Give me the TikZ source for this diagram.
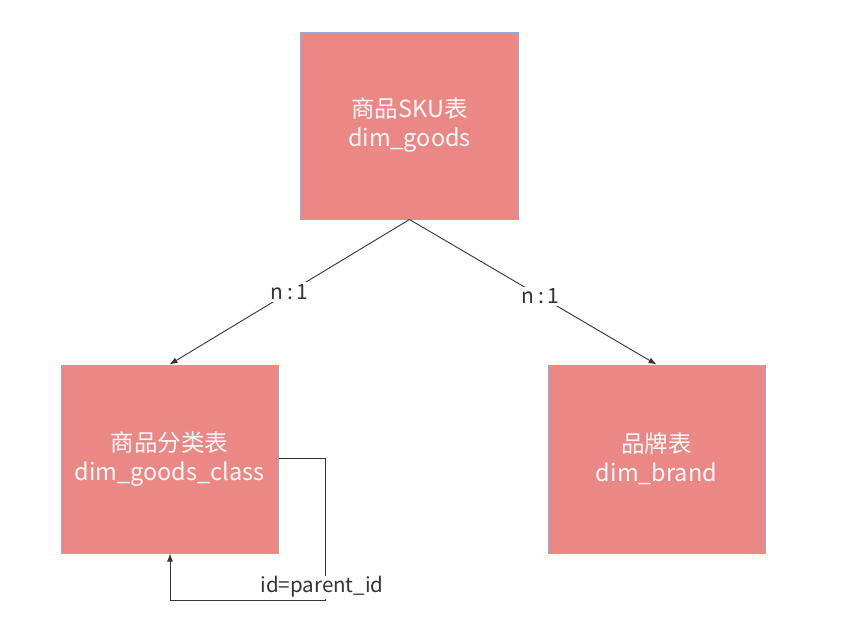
\documentclass[tikz,border=0pt]{standalone}
\usepackage{fontspec}
\setmainfont{Noto Sans CJK SC}
\usetikzlibrary{arrows.meta}
\definecolor{boxfill}{HTML}{EA8886}
\definecolor{boxline}{HTML}{8FAADC}
\definecolor{linecol}{HTML}{333333}
\begin{document}
\begin{tikzpicture}[x=1pt,y=-1pt,
  tablebox/.style={draw=boxline,line width=1pt,fill=boxfill,text=white!90!pink,
    minimum width=#1,align=center,font=\fontsize{23.5}{29}\selectfont,inner sep=0pt},
  rel/.style={draw=linecol,line width=0.9pt,-{Latex[length=8pt,width=6pt]}},
  lbl/.style={fill=white,text=linecol,font=\fontsize{21}{24}\selectfont,inner sep=2pt}]
\useasboundingbox (0,0) rectangle (861,622);
\node[tablebox=218pt,minimum height=187pt] (goods) at (409.5,125.5) {商品SKU表\\dim\_goods};
\node[tablebox=217pt,minimum height=188pt] (class) at (169.5,459) {商品分类表\\dim\_goods\_class};
\node[tablebox=217pt,minimum height=188pt] (brand) at (656.5,459) {品牌表\\dim\_brand};
\draw[rel] (goods.south) -- node[lbl,pos=0.5] {n\,:\,1} (class.north);
\draw[rel] (goods.south) -- node[lbl,pos=0.53] {n\,:\,1} (brand.north);
\coordinate (c1) at (325,458);
\coordinate (c2) at (325,600);
\coordinate (c3) at (170,600);
\draw[rel] (class.east |- c1) -- (c1) -- (c2) -- (c3) -- (class.south -| c3);
\node[lbl,inner sep=1pt,font=\fontsize{20.5}{24}\selectfont] (idlbl) at (322,587) {id=parent\_id};
\end{tikzpicture}
\end{document}
